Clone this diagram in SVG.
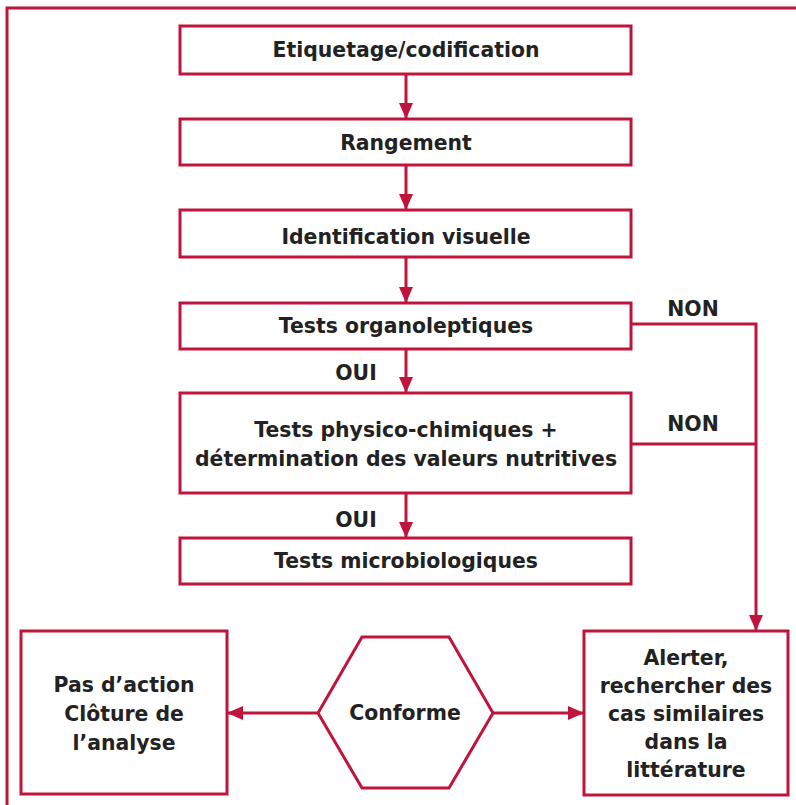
<svg xmlns="http://www.w3.org/2000/svg" width="796" height="805" viewBox="0 0 796 805">
<defs>
<style>
.b{fill:#fff;stroke:#c0143c;stroke-width:3}
.c{fill:none;stroke:#c0143c;stroke-width:3}
.t{font-family:"DejaVu Sans",Verdana,sans-serif;font-weight:bold;font-size:20.4px;fill:#222;text-anchor:middle}
</style>
<marker id="ah" viewBox="0 0 16 14" refX="16" refY="7" markerWidth="16" markerHeight="14" markerUnits="userSpaceOnUse" orient="auto">
<path d="M0,0 L16,7 L0,14 Z" fill="#c0143c"/>
</marker>
</defs>
<rect x="7" y="8" width="820" height="820" fill="none" stroke="#c0143c" stroke-width="3"/>
<g id="connectors">
<line class="c" x1="406" y1="74" x2="406" y2="119" marker-end="url(#ah)"/>
<line class="c" x1="406" y1="165" x2="406" y2="210" marker-end="url(#ah)"/>
<line class="c" x1="406" y1="257" x2="406" y2="303" marker-end="url(#ah)"/>
<line class="c" x1="406" y1="349" x2="406" y2="393" marker-end="url(#ah)"/>
<line class="c" x1="406" y1="493" x2="406" y2="538" marker-end="url(#ah)"/>
<polyline class="c" points="631,324 756,324 756,631" marker-end="url(#ah)"/>
<line class="c" x1="631" y1="444" x2="756" y2="444"/>
<line class="c" x1="493" y1="713" x2="584" y2="713" marker-end="url(#ah)"/>
<line class="c" x1="318" y1="713" x2="227" y2="713" marker-end="url(#ah)"/>
<text class="t" x="693" y="316">NON</text>
<text class="t" x="693" y="431">NON</text>
<text class="t" x="356" y="380">OUI</text>
<text class="t" x="356" y="527">OUI</text>
</g>
<g id="n1"><rect class="b" x="180" y="26" width="451" height="48"/><text class="t" x="406" y="57">Etiquetage/codification</text></g>
<g id="n2"><rect class="b" x="180" y="119" width="451" height="46"/><text class="t" x="406" y="150">Rangement</text></g>
<g id="n3"><rect class="b" x="180" y="210" width="451" height="47"/><text class="t" x="406" y="244">Identification visuelle</text></g>
<g id="n4"><rect class="b" x="180" y="303" width="451" height="46"/><text class="t" x="406" y="333">Tests organoleptiques</text></g>
<g id="n5"><rect class="b" x="180" y="393" width="451" height="100"/><text class="t" x="406" y="437">Tests physico-chimiques +</text><text class="t" x="406" y="466">détermination des valeurs nutritives</text></g>
<g id="n6"><rect class="b" x="180" y="538" width="451" height="46"/><text class="t" x="406" y="568">Tests microbiologiques</text></g>
<g id="n7"><rect class="b" x="21" y="631" width="206" height="163"/><text class="t" x="124" y="692">Pas d’action</text><text class="t" x="124" y="721">Clôture de</text><text class="t" x="124" y="750">l’analyse</text></g>
<g id="n8"><polygon class="b" points="318,713 362,637 449,637 493,713 449,788 362,788"/><text class="t" x="405" y="720">Conforme</text></g>
<g id="n9"><rect class="b" x="584" y="631" width="204" height="164"/><text class="t" x="686" y="665">Alerter,</text><text class="t" x="686" y="693">rechercher des</text><text class="t" x="686" y="721">cas similaires</text><text class="t" x="686" y="749">dans la</text><text class="t" x="686" y="777">littérature</text></g>
</svg>
